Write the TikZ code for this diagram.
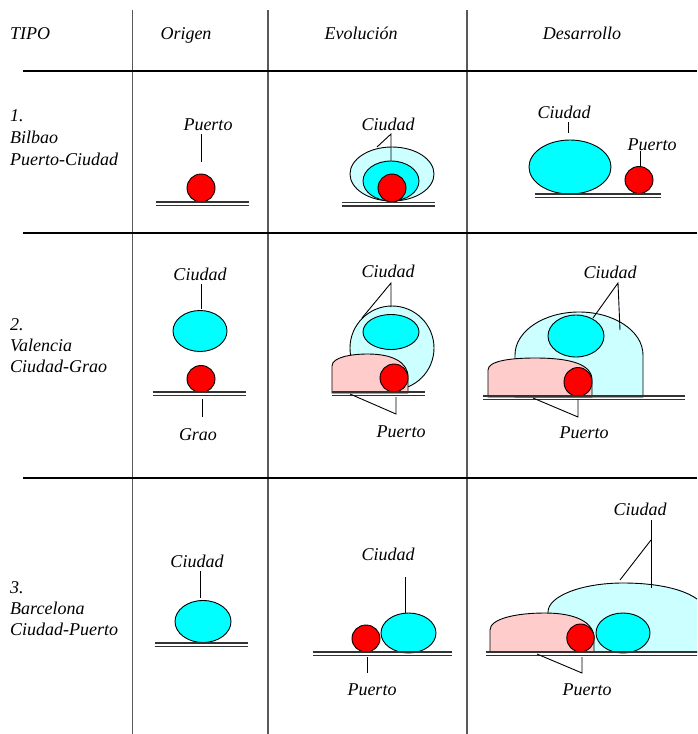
\documentclass[tikz,border=0pt]{standalone}
\usepackage{fontspec}
\setmainfont{Liberation Serif}
\definecolor{cyanC}{RGB}{0,255,255}
\definecolor{lightC}{RGB}{204,255,255}
\definecolor{redC}{RGB}{255,0,0}
\definecolor{pinkC}{RGB}{255,204,204}
\newcommand\groundline[3]{\draw[gline] (#1,#3) -- (#2,#3); \draw[gline] (#1,#3+3.5) -- (#2,#3+3.5);}
\begin{document}
\begin{tikzpicture}[x=1pt,y=-1pt,
  lbl/.style={font=\fontsize{18}{22}\selectfont\itshape, inner sep=0pt, anchor=base},
  lft/.style={lbl, anchor=base west},
  leader/.style={draw=black, line width=0.9pt},
  hrule/.style={line width=2pt, black},
  vrule/.style={line width=1.3pt, black!65},
  gline/.style={line width=1.2pt, black!80},
  shp/.style={draw=black, line width=0.9pt},
  cy/.style={shp, fill=cyanC},
  lc/.style={shp, fill=lightC},
  rd/.style={shp, fill=redC},
  pk/.style={shp, fill=pinkC}]
\useasboundingbox (0,0) rectangle (697,734);
\clip (0,0) rectangle (697,734);
% grid
\draw[vrule] (132.5,10) -- (132.5,734);
\draw[vrule] (268,10) -- (268,734);
\draw[vrule] (467,10) -- (467,734);
\draw[hrule] (23,71) -- (697,71);
\draw[hrule] (23,233) -- (697,233);
\draw[hrule] (23,478) -- (697,478);
% header
\node[lft] (hT) at (10,39) {TIPO};
\node[lbl] (hO) at (186,39) {Origen};
\node[lbl] (hE) at (361,39) {Evolución};
\node[lbl] (hD) at (582,39) {Desarrollo};
% left column
\node[lft] (r1a) at (10,121) {1.};
\node[lft] (r1b) at (10,143) {Bilbao};
\node[lft] (r1c) at (10,165) {Puerto-Ciudad};
\node[lft] (r2a) at (10,330) {2.};
\node[lft] (r2b) at (10,351) {Valencia};
\node[lft] (r2c) at (10,372) {Ciudad-Grao};
\node[lft] (r3a) at (10,593) {3.};
\node[lft] (r3b) at (10,614) {Barcelona};
\node[lft] (r3c) at (10,635) {Ciudad-Puerto};

% ===== Row 1 =====
% Origen
\draw[rd] (201,188) ellipse [x radius=14pt, y radius=14pt];
\groundline{156}{249}{202}
\node[lbl] (o1p) at (208,130) {Puerto};
\coordinate (o1a) at (201,134); \coordinate (o1b) at (201,162);
\draw[leader] (o1a) -- (o1b);
% Evolucion
\draw[lc] (392,174) ellipse [x radius=42pt, y radius=27pt];
\draw[cy] (391,181) ellipse [x radius=28pt, y radius=20pt];
\draw[rd] (392,188) ellipse [x radius=14pt, y radius=14pt];
\groundline{342}{435}{202.5}
\node[lbl] (e1c) at (388,130) {Ciudad};
\coordinate (e1ap) at (391,134); \coordinate (e1l) at (377,147); \coordinate (e1v) at (391,161);
\draw[leader] (e1l) -- (e1ap) -- (e1v);
% Desarrollo
\draw[cy] (570,167) ellipse [x radius=41pt, y radius=27pt];
\draw[rd] (639,180) ellipse [x radius=14pt, y radius=13.5pt];
\groundline{535}{661}{194}
\node[lbl] (d1c) at (564,118) {Ciudad};
\coordinate (d1a) at (568,122); \coordinate (d1b) at (568,133);
\draw[leader] (d1a) -- (d1b);
\node[lbl] (d1p) at (652,150) {Puerto};
\coordinate (d1pa) at (640,151); \coordinate (d1pb) at (640,167);
\draw[leader] (d1pa) -- (d1pb);

% ===== Row 2 =====
% Origen
\draw[cy] (200,331) ellipse [x radius=27pt, y radius=20.5pt];
\draw[rd] (201,379) ellipse [x radius=14pt, y radius=13.5pt];
\groundline{153}{246}{392}
\node[lbl] (o2c) at (200,280) {Ciudad};
\coordinate (o2a) at (201,284); \coordinate (o2b) at (201,309);
\draw[leader] (o2a) -- (o2b);
\node[lbl] (o2g) at (198,440) {Grao};
\coordinate (o2ga) at (202,399); \coordinate (o2gb) at (202,417);
\draw[leader] (o2ga) -- (o2gb);
% Evolucion
\draw[lc] (392,348) ellipse [x radius=42pt, y radius=42pt];
\draw[cy] (391,332) ellipse [x radius=28pt, y radius=17.5pt];
\draw[pk] (332,393) -- (332,366) .. controls (332,357) and (352,354) .. (368,354)
  .. controls (392,354) and (408,362) .. (408,377) -- (408,393) -- cycle;
\draw[rd] (394,378) ellipse [x radius=14pt, y radius=14pt];
\groundline{332}{425}{392}
\node[lbl] (e2c) at (388,277) {Ciudad};
\coordinate (e2ap) at (391,283); \coordinate (e2l) at (362,318); \coordinate (e2v) at (391,307);
\draw[leader] (e2l) -- (e2ap) -- (e2v);
\node[lbl] (e2p) at (401,437) {Puerto};
\coordinate (e2pap) at (396,414); \coordinate (e2pl) at (350,394); \coordinate (e2pv) at (396,397);
\draw[leader] (e2pl) -- (e2pap) -- (e2pv);
% Desarrollo
\draw[lc] (515,397) -- (515,355) .. controls (515,331) and (544,312) .. (579,312)
  .. controls (614,312) and (643,331) .. (643,355) -- (643,397) -- cycle;
\draw[cy] (576,336) ellipse [x radius=28pt, y radius=21pt];
\draw[pk] (488,397) -- (488,370) .. controls (488,361) and (510,358) .. (535,358)
  .. controls (570,358) and (592,364) .. (592,380) -- (592,397) -- cycle;
\draw[rd] (578,382) ellipse [x radius=14pt, y radius=14.5pt];
\groundline{483}{685}{396}
\node[lbl] (d2c) at (610,278) {Ciudad};
\coordinate (d2ap) at (618,283); \coordinate (d2l) at (593,318); \coordinate (d2r) at (620,330);
\draw[leader] (d2l) -- (d2ap) -- (d2r);
\node[lbl] (d2p) at (584,438) {Puerto};
\coordinate (d2pap) at (578,417); \coordinate (d2pl) at (533,398); \coordinate (d2pv) at (578,399);
\draw[leader] (d2pl) -- (d2pap) -- (d2pv);

% ===== Row 3 =====
% Origen
\draw[cy] (203,621.5) ellipse [x radius=28pt, y radius=21pt];
\groundline{155}{248}{643}
\node[lbl] (o3c) at (197,567) {Ciudad};
\coordinate (o3a) at (200,571); \coordinate (o3b) at (200,598);
\draw[leader] (o3a) -- (o3b);
% Evolucion
\draw[cy] (408.5,633) ellipse [x radius=27.5pt, y radius=20pt];
\draw[rd] (366,638.5) ellipse [x radius=14pt, y radius=13.5pt];
\groundline{313}{452}{652}
\node[lbl] (e3c) at (388,560) {Ciudad};
\coordinate (e3a) at (405,577); \coordinate (e3b) at (405,613);
\draw[leader] (e3a) -- (e3b);
\node[lbl] (e3p) at (372,695) {Puerto};
\coordinate (e3pa) at (367,657); \coordinate (e3pb) at (367,673);
\draw[leader] (e3pa) -- (e3pb);
% Desarrollo
\draw[lc] (548,652) -- (548,612) .. controls (548,596) and (582,583) .. (623,583)
  .. controls (664,583) and (700,592) .. (708,612) -- (708,652) -- cycle;
\draw[pk] (490,652) -- (490,630) .. controls (490,619) and (515,613) .. (545,613)
  .. controls (575,613) and (594,622) .. (594,638) -- (594,652) -- cycle;
\draw[rd] (580.5,638) ellipse [x radius=13.7pt, y radius=14pt];
\draw[cy] (623,633) ellipse [x radius=27pt, y radius=20pt];
\groundline{486}{700}{652}
\node[lbl] (d3c) at (640,515) {Ciudad};
\coordinate (d3top) at (651,520); \coordinate (d3ap) at (651,540);
\coordinate (d3v) at (651,588); \coordinate (d3l) at (620,580);
\draw[leader] (d3top) -- (d3v);
\draw[leader] (d3ap) -- (d3l);
\node[lbl] (d3p) at (587,695) {Puerto};
\coordinate (d3pap) at (582,673); \coordinate (d3pl) at (537,654); \coordinate (d3pv) at (582,657);
\draw[leader] (d3pl) -- (d3pap) -- (d3pv);
\end{tikzpicture}
\end{document}
